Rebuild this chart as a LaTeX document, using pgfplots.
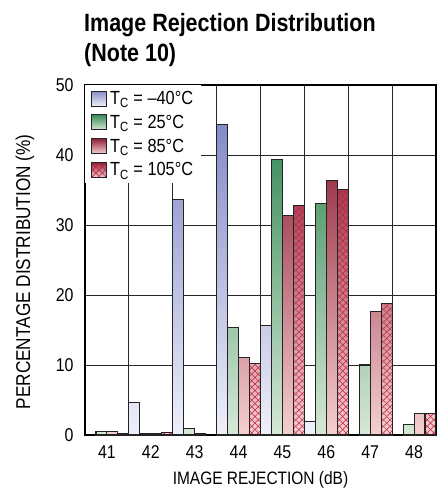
\documentclass[border=0pt]{standalone}
\usepackage{pgfplots}
\pgfplotsset{compat=1.18}
\usepackage{fontspec}
\setmainfont{Liberation Sans}[FakeStretch=0.86]

\definecolor{bluetop}{RGB}{118,125,192}
\definecolor{bluebot}{RGB}{238,240,250}
\definecolor{greentop}{RGB}{30,122,66}
\definecolor{greenbot}{RGB}{214,232,214}
\definecolor{redtop}{RGB}{125,0,28}
\definecolor{redbot}{RGB}{245,208,208}
\definecolor{hatchtop}{RGB}{125,0,28}
\definecolor{hatchbot}{RGB}{245,208,208}
\definecolor{hatchc}{RGB}{195,30,65}
\definecolor{barline}{RGB}{35,35,35}

% diagonal cross-hatch drawn as clipped lines (no pdf patterns)
\newif\ifinhatch
\tikzset{hatchfill/.style={path picture={%
  \ifinhatch\else
  \inhatchtrue
  \path (path picture bounding box.south west) coordinate (hsw)
        (path picture bounding box.south east) coordinate (hse);
  \foreach \k in {-42,...,3} {
    \draw[hatchc, line width=0.5pt, shade=false, fill=none] ([xshift=\k*6.5pt]hsw) -- ++(300pt,300pt);
    \draw[hatchc, line width=0.5pt, shade=false, fill=none] ([xshift=-\k*6.5pt]hse) -- ++(-300pt,300pt);
  }%
  \fi}}}

\pgfplotsset{
  sblue/.style={},
  sgreen/.style={},
  sred/.style={},
  shatch/.style={hatchfill},
}

% one bar: series, shift, x, y (shade darkens with the bar's height)
\newcommand\bb[4]{%
  \pgfmathtruncatemacro\pct{#4*2}%
  \edef\tmp{\noexpand\addplot[ybar, bar width=0.25, bar shift=#2, draw=barline,
    line width=1.1pt, top color=#1top!\pct!#1bot, bottom color=#1bot, s#1, forget plot]
    coordinates {(#3,#4)};}%
  \tmp}

\begin{document}
\begin{tikzpicture}
\useasboundingbox (-85pt,-56pt) rectangle (360pt,435pt);
\begin{axis}[
  scale only axis,
  width=351pt, height=350pt,
  xmin=40.5, xmax=48.5,
  ymin=0, ymax=50,
  xtick={41,...,48},
  minor xtick={41.5,42.5,...,47.5},
  ytick={0,10,...,50},
  xminorgrids=true, ymajorgrids=true,
  major tick length=0pt, minor tick length=0pt,
  grid style={black!85, line width=0.9pt},
  minor grid style={black!85, line width=0.9pt},
  axis line style={black, line width=1.2pt},
  tick label style={font=\fontsize{18.5}{20}\selectfont},
  /pgf/number format/assume math mode=true,
  xticklabel style={yshift=-7pt},
  yticklabel style={xshift=-8pt},
  every axis x label/.style={at={(axis description cs:0.5,-0.129)}, anchor=center},
  every axis y label/.style={at={(axis description cs:-0.171,0.466)}, anchor=center, rotate=90},
  xlabel style={font=\fontsize{18}{20}\selectfont},
  ylabel style={font=\fontsize{20}{22}\selectfont},
  xlabel={IMAGE REJECTION (dB)},
  ylabel={PERCENTAGE DISTRIBUTION (\%)},
  legend style={at={(0,1)}, anchor=north west, draw=none, fill=white,
    font=\fontsize{19}{22}\selectfont, inner xsep=6pt, inner ysep=4pt,
    row sep=5pt, cells={anchor=west}},
  legend image code/.code={\draw[#1] (0pt,-7.5pt) rectangle (15pt,7.5pt); \path (16pt,0pt);},
]
\addlegendimage{draw=barline, line width=1pt, top color=bluetop!85!bluebot, bottom color=bluebot}
\addlegendentry{T\textsubscript{C} = –40°C}
\addlegendimage{draw=barline, line width=1pt, top color=greentop!85!greenbot, bottom color=greenbot}
\addlegendentry{T\textsubscript{C} = 25°C}
\addlegendimage{draw=barline, line width=1pt, top color=redtop!85!redbot, bottom color=redbot}
\addlegendentry{T\textsubscript{C} = 85°C}
\addlegendimage{draw=barline, line width=1pt, top color=hatchtop!85!hatchbot, bottom color=hatchbot, hatchfill}
\addlegendentry{T\textsubscript{C} = 105°C}

% T = -40 C
\bb{blue}{-0.375}{42}{4.6}
\bb{blue}{-0.375}{43}{33.7}
\bb{blue}{-0.375}{44}{44.4}
\bb{blue}{-0.375}{45}{15.7}
\bb{blue}{-0.375}{46}{1.9}
% T = 25 C
\bb{green}{-0.125}{41}{0.5}
\bb{green}{-0.125}{42}{0.2}
\bb{green}{-0.125}{43}{0.9}
\bb{green}{-0.125}{44}{15.4}
\bb{green}{-0.125}{45}{39.3}
\bb{green}{-0.125}{46}{33.1}
\bb{green}{-0.125}{47}{10.0}
\bb{green}{-0.125}{48}{1.5}
% T = 85 C
\bb{red}{0.125}{41}{0.5}
\bb{red}{0.125}{42}{0.2}
\bb{red}{0.125}{43}{0.2}
\bb{red}{0.125}{44}{11.1}
\bb{red}{0.125}{45}{31.4}
\bb{red}{0.125}{46}{36.4}
\bb{red}{0.125}{47}{17.7}
\bb{red}{0.125}{48}{3.1}
% T = 105 C
\bb{hatch}{0.375}{41}{0.2}
\bb{hatch}{0.375}{42}{0.4}
\bb{hatch}{0.375}{44}{10.2}
\bb{hatch}{0.375}{45}{32.8}
\bb{hatch}{0.375}{46}{35.1}
\bb{hatch}{0.375}{47}{18.8}
\bb{hatch}{0.375}{48}{3.1}
\end{axis}
\node[anchor=base west, inner sep=0pt, font=\bfseries\fontsize{25}{30}\selectfont] at (-1pt,403pt) {Image Rejection Distribution};
\node[anchor=base west, inner sep=0pt, font=\bfseries\fontsize{25}{30}\selectfont] at (-1pt,373pt) {(Note 10)};
\end{tikzpicture}
\end{document}
